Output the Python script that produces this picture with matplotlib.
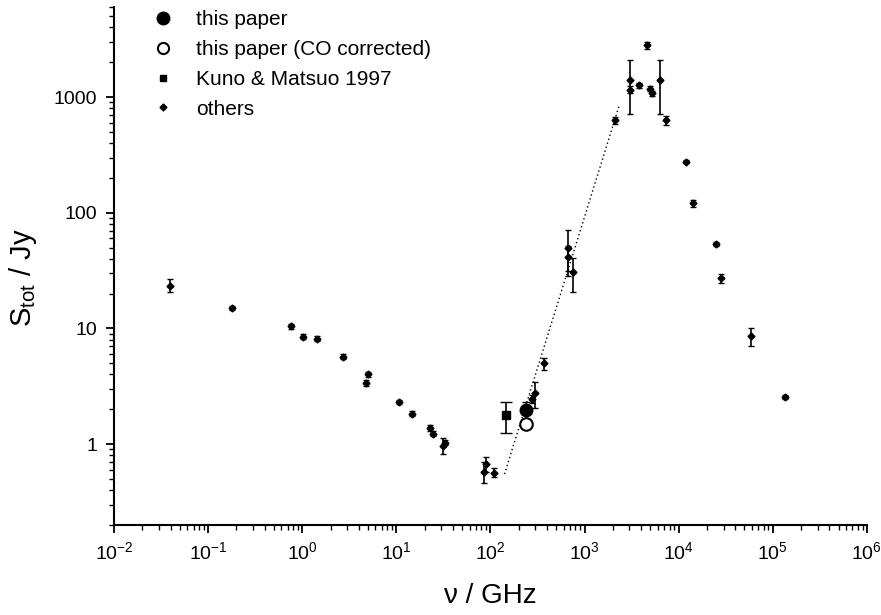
# Imports
import numpy as np
import matplotlib
matplotlib.use('Agg')
import matplotlib.pyplot as plt
from matplotlib.lines import Line2D
from matplotlib.ticker import LogLocator, NullFormatter

plt.rcParams['font.family'] = ['Liberation Sans', 'DejaVu Sans']
plt.rcParams['mathtext.fontset'] = 'custom'
plt.rcParams['mathtext.rm'] = 'Liberation Sans'
plt.rcParams['mathtext.it'] = 'Liberation Sans:italic'

# Data: others (frequency in GHz, flux in Jy, error)
nu_oth = [0.039, 0.18, 0.755, 1.01, 1.43, 2.69, 5.05, 4.8, 10.7, 14.8, 23.0, 24.5,
          31.0, 33.0, 86.0, 90.0, 110.0, 275.0, 298.0, 372.0, 668.0, 668.0, 750.0,
          2110.0, 3020.0, 3020.0, 3820.0, 4610.0, 4970.0, 5180.0, 6400.0, 7290.0,
          12000.0, 14200.0, 24900.0, 28500.0, 59300.0, 135000.0]
s_oth = [23.5, 14.9, 10.4, 8.5, 8.15, 5.7, 4.04, 3.38, 2.33, 1.84, 1.39, 1.23,
         0.97, 1.03, 0.58, 0.68, 0.566, 2.46, 2.77, 4.99, 49.6, 41.5, 30.6,
         629.0, 1410.0, 1156.0, 1262.0, 2806.0, 1180.0, 1077.0, 1410.0, 629.0,
         277.0, 121.0, 53.7, 27.3, 8.53, 2.56]
e_oth = [3.0, 0.6, 0.5, 0.4, 0.4, 0.3, 0.2, 0.2, 0.1, 0.08, 0.08, 0.06,
         0.15, 0.05, 0.12, 0.1, 0.05, 0.2, 0.7, 0.6, 21.0, 10.0, 10.0,
         40.0, 700.0, 80.0, 60.0, 200.0, 60.0, 60.0, 700.0, 60.0,
         10.0, 8.0, 2.0, 2.5, 1.5, 0.1]

# this paper
nu_tp = [239.0]
s_tp = [1.98]
e_tp = [0.35]
s_tp_co = [1.49]

# Kuno & Matsuo 1997
nu_km = [148.0]
s_km = [1.77]
e_km = [0.53]

# power-law fit (dotted)
nu_fit = [141.0, 2330.0]
s_fit = [0.551, 841.0]

# Plot
fig = plt.figure(figsize=(8.81, 6.15), dpi=100)
ax = fig.add_axes([0.1294, 0.1463, 0.8546, 0.8423])

ax.plot(nu_fit, s_fit, color='black', ls=(0, (1, 2)), lw=1.0)
ax.errorbar(nu_oth, s_oth, yerr=e_oth, fmt='D', color='black', ms=3.5,
            elinewidth=1.2, capsize=2.5, capthick=1.0, zorder=3)
ax.errorbar(nu_km, s_km, yerr=e_km, fmt='s', color='black', ms=6,
            elinewidth=1.2, capsize=4, capthick=1.0, zorder=3)
ax.errorbar(nu_tp, s_tp, yerr=e_tp, fmt='o', color='black', ms=9,
            elinewidth=1.2, capsize=3, capthick=1.0, zorder=4)
ax.plot(nu_tp, s_tp_co, 'o', mfc='white', mec='black', mew=1.5, ms=9, zorder=4)

ax.set_xscale('log')
ax.set_yscale('log')
ax.set_xlim(1e-2, 1e6)
ax.set_ylim(0.2, 6000)

ax.set_xticks([10.0**k for k in range(-2, 7)])
ax.set_xticklabels(['$10^{%d}$' % k for k in range(-2, 7)])
ax.xaxis.set_minor_locator(LogLocator(base=10, subs=np.arange(2, 10), numticks=20))
ax.xaxis.set_minor_formatter(NullFormatter())
ax.set_yticks([1, 10, 100, 1000])
ax.set_yticklabels(['1', '10', '100', '1000'])
ax.yaxis.set_minor_locator(LogLocator(base=10, subs=np.arange(2, 10), numticks=20))
ax.yaxis.set_minor_formatter(NullFormatter())

ax.spines['top'].set_visible(False)
ax.spines['right'].set_visible(False)
ax.spines['left'].set_linewidth(1.5)
ax.spines['bottom'].set_linewidth(1.5)
ax.tick_params(which='major', direction='out', length=6, width=1.3, labelsize=14, pad=6)
ax.tick_params(which='minor', direction='out', length=3.5, width=1.0)

ax.set_xlabel('ν / GHz', fontsize=20, labelpad=14)
ax.set_ylabel('S$_\\mathrm{tot}$ / Jy', fontsize=21)
ax.yaxis.set_label_coords(-0.100, 0.477)

handles = [
    Line2D([], [], ls='none', marker='o', color='black', ms=9),
    Line2D([], [], ls='none', marker='o', mfc='white', mec='black', mew=1.5, ms=8),
    Line2D([], [], ls='none', marker='s', color='black', ms=5),
    Line2D([], [], ls='none', marker='D', color='black', ms=3.5),
]
labels = ['this paper', 'this paper (CO corrected)', 'Kuno & Matsuo 1997', 'others']
ax.legend(handles, labels, loc='upper left', frameon=False, fontsize=15,
          bbox_to_anchor=(0.02, 1.03), handletextpad=0.8, handlelength=1.5,
          labelspacing=0.52)

fig.savefig('out.png', dpi=100)
